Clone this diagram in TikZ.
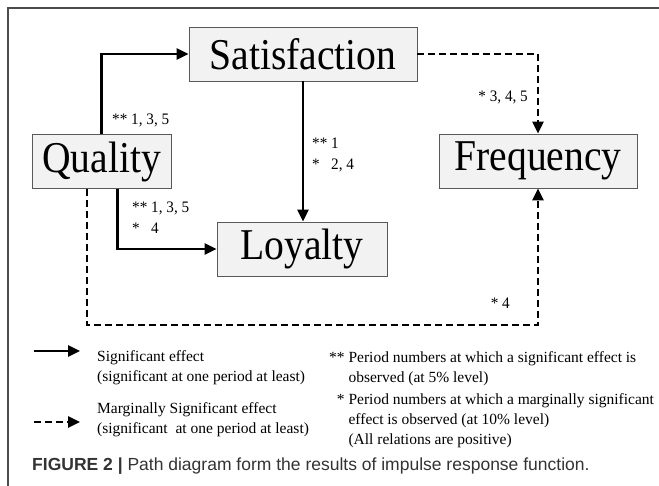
\documentclass[tikz,border=0pt]{standalone}
\usepackage{fontspec}
\setmainfont{Liberation Serif}
\newfontfamily\capfont{Liberation Sans}
\newfontfamily\boxfont[FakeStretch=0.9]{Liberation Serif}
\newfontfamily\numfont[FakeStretch=0.95]{Liberation Serif}
\usetikzlibrary{arrows.meta}

\tikzset{
  var/.style={draw=black!65, fill=black!5, line width=0.8pt, minimum height=54pt, inner sep=0pt, font=\boxfont\fontsize{44}{44}\selectfont},
  eff/.style={line width=2.6pt, -{Triangle[length=12pt,width=11pt]}},
  meff/.style={eff, dash pattern=on 7pt off 4pt},
  lbl/.style={font=\numfont\fontsize{16}{21}\selectfont, inner sep=0pt, align=left},
  leg/.style={font=\fontsize{15.5}{20}\selectfont, inner sep=0pt, align=left},
}

\begin{document}
\begin{tikzpicture}[x=1pt,y=-1pt]
\useasboundingbox (0,0) rectangle (659,486);
\draw[black!70, line width=2pt] (8,486) -- (8,8) -- (659,8);

% variables
\node[var, minimum width=228pt] (sat) at (303,54) {Satisfaction};
\node[var, minimum width=139pt] (qual) at (101.5,161.5) {Quality};
\node[var, minimum width=198pt] (freq) at (538,161) {Frequency};
\node[var, minimum width=170pt] (loy) at (302,249) {Loyalty};
\coordinate (low) at (0,325);

% effects
\draw[eff] (qual.north) |- (sat.west);
\draw[eff] (sat.south) -- (sat.south |- loy.north);
\draw[eff] ([xshift=16pt]qual.south) |- (loy.west);
\draw[meff] (sat.east) -| (freq.north);
\draw[meff] ([xshift=-14.5pt]qual.south) |- (low -| freq.south) -- (freq.south);

\node[lbl, anchor=west] (qs) at (112,120) {** 1, 3, 5};
\node[lbl, anchor=west] (sl) at (312,155) {** 1\\\rlap{*}\phantom{**} 2, 4};
\node[lbl, anchor=west] (ql) at (132,218) {** 1, 3, 5\\\rlap{*}\phantom{**} 4};
\node[lbl, anchor=east] (sf) at (528,97) {* 3, 4, 5};
\node[lbl, anchor=east] (qf) at (510,303) {* 4};

% legend
\coordinate (s0) at (34,351);
\coordinate (s1) at (80,351);
\coordinate (m0) at (34,422);
\coordinate (m1) at (80,422);
\draw[eff] (s0) -- (s1);
\draw[meff] (m0) -- (m1);
\node[leg, anchor=west] (ls) at (97,368) {Significant effect\\(significant at one period at least)};
\node[leg, anchor=west] (lm) at (97,420) {Marginally Significant effect\\(significant\ \ at one period at least)};
\node[leg, anchor=north west] (lp) at (329,348) {\begin{tabular}{@{}r@{\ }l@{}}
** & Period numbers at which a significant effect is\\
   & observed (at 5\% level)\\[2pt]
*  & Period numbers at which a marginally significant\\
   & effect is observed (at 10\% level)\\
   & (All relations are positive)
\end{tabular}};

\node[anchor=west, inner sep=0pt, text=black!80, font=\capfont\fontsize{17.5}{20}\selectfont] (cap) at (32,466)
  {\textbf{FIGURE 2 |} Path diagram form the results of impulse response function.};
\end{tikzpicture}
\end{document}
